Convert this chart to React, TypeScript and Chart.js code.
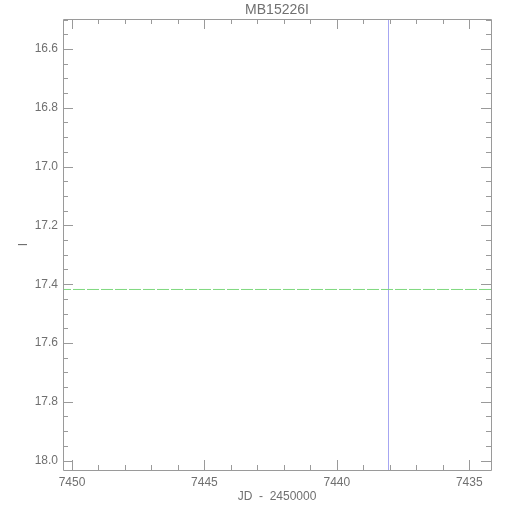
import React, { useEffect, useRef } from "react";
import { Chart, registerables } from "chart.js";

Chart.register(...registerables);

const chartTitle = "MB15226I";
const xAxisTitle = "JD  -  2450000";
const yAxisTitle = "I";

const xRange = [7434.18, 7450.34];
const yRange = [16.498, 18.032];

const xMajorTicks = [7450, 7445, 7440, 7435];
const xMinorTicks = [7449, 7448, 7447, 7446, 7444, 7443, 7442, 7441, 7439, 7438, 7437, 7436];
const yMajorTicks = [16.6, 16.8, 17.0, 17.2, 17.4, 17.6, 17.8, 18.0];
const yMinorTicks = [16.5, 16.55, 16.65, 16.7, 16.75, 16.85, 16.9, 16.95, 17.05, 17.1, 17.15, 17.25, 17.3, 17.35, 17.45, 17.5, 17.55, 17.65, 17.7, 17.75, 17.85, 17.9, 17.95];

const eventTimes = [7438.05];
const baselineMags = [17.418];

const axisColor = "#9a9a9a";
const textColor = "#707070";

const boxTicksPlugin = {
  id: "boxTicks",
  afterDatasetsDraw(chart: any) {
    const { ctx, chartArea } = chart;
    const xs = chart.scales.x;
    const ys = chart.scales.y;
    const { left, right, top, bottom } = chartArea;
    ctx.save();
    ctx.strokeStyle = axisColor;
    ctx.lineWidth = 1;
    ctx.beginPath();
    ctx.rect(Math.round(left) + 0.5, Math.round(top) + 0.5, Math.round(right - left), Math.round(bottom - top));
    ctx.stroke();
    const drawX = (vals: number[], len: number) => {
      vals.forEach((v) => {
        const px = Math.round(xs.getPixelForValue(v)) + 0.5;
        ctx.beginPath();
        ctx.moveTo(px, bottom);
        ctx.lineTo(px, bottom - len);
        ctx.moveTo(px, top);
        ctx.lineTo(px, top + len);
        ctx.stroke();
      });
    };
    const drawY = (vals: number[], len: number) => {
      vals.forEach((v) => {
        const py = Math.round(ys.getPixelForValue(v)) + 0.5;
        ctx.beginPath();
        ctx.moveTo(left, py);
        ctx.lineTo(left + len, py);
        ctx.moveTo(right, py);
        ctx.lineTo(right - len, py);
        ctx.stroke();
      });
    };
    drawX(xMajorTicks, 10);
    drawX(xMinorTicks, 5);
    drawY(yMajorTicks, 10);
    drawY(yMinorTicks, 5);
    // title centred over the plot area
    ctx.fillStyle = textColor;
    ctx.font = "14px 'Liberation Sans'";
    ctx.textAlign = "center";
    ctx.textBaseline = "middle";
    ctx.fillText(chartTitle, (left + right) / 2, top - 9);
    ctx.restore();
  },
};

export default function App() {
  const ref = useRef<HTMLCanvasElement>(null);
  useEffect(() => {
    if (!ref.current) return;
    const verticalData: any[] = [];
    eventTimes.forEach((t) => {
      verticalData.push({ x: t, y: yRange[0] });
      verticalData.push({ x: t, y: yRange[1] });
    });
    const horizontalData: any[] = [];
    baselineMags.forEach((m) => {
      horizontalData.push({ x: xRange[0], y: m });
      horizontalData.push({ x: xRange[1], y: m });
    });
    const chart = new Chart(ref.current, {
      type: "line",
      data: {
        datasets: [
          {
            label: "baseline",
            data: horizontalData,
            borderColor: "#7fd87f",
            borderWidth: 1,
            borderDash: [12, 2],
            pointRadius: 0,
          },
          {
            label: "t0",
            data: verticalData,
            borderColor: "#a6a6f2",
            borderWidth: 1,
            pointRadius: 0,
          },
        ],
      },
      options: {
        animation: false,
        responsive: false,
        events: [],
        layout: { padding: { left: 0, right: 19, top: 19, bottom: 0 } },
        plugins: {
          legend: { display: false },
          tooltip: { enabled: false },
          title: { display: false },
        },
        scales: {
          x: {
            type: "linear",
            reverse: true,
            min: xRange[0],
            max: xRange[1],
            grid: { display: false, drawTicks: false },
            border: { display: false },
            afterBuildTicks: (s: any) => {
              s.ticks = xMajorTicks.map((v) => ({ value: v }));
            },
            afterFit: (s: any) => {
              s.height = 40;
            },
            ticks: {
              autoSkip: false,
              maxRotation: 0,
              padding: 5,
              color: textColor,
              font: { family: "Liberation Sans", size: 12 },
              callback: (v: any) => String(v),
            },
            title: {
              display: true,
              text: xAxisTitle,
              color: textColor,
              font: { family: "Liberation Sans", size: 12 },
              padding: { top: 0, bottom: 6 },
            },
          },
          y: {
            type: "linear",
            reverse: true,
            min: yRange[0],
            max: yRange[1],
            grid: { display: false, drawTicks: false },
            border: { display: false },
            afterBuildTicks: (s: any) => {
              s.ticks = yMajorTicks.map((v) => ({ value: v }));
            },
            afterFit: (s: any) => {
              s.width = 63;
            },
            ticks: {
              autoSkip: false,
              padding: 5,
              color: textColor,
              font: { family: "Liberation Sans", size: 12 },
              callback: (v: any) => Number(v).toFixed(1),
            },
            title: {
              display: true,
              text: yAxisTitle,
              color: textColor,
              font: { family: "Liberation Sans", size: 12 },
              padding: { top: 16, bottom: 0 },
            },
          },
        },
      },
      plugins: [boxTicksPlugin],
    });
    return () => chart.destroy();
  }, []);
  return (
    <div style={{ position: "fixed", left: 0, top: 0, width: 510, height: 510, background: "#fff" }}>
      <canvas ref={ref} width={510} height={510} />
    </div>
  );
}
